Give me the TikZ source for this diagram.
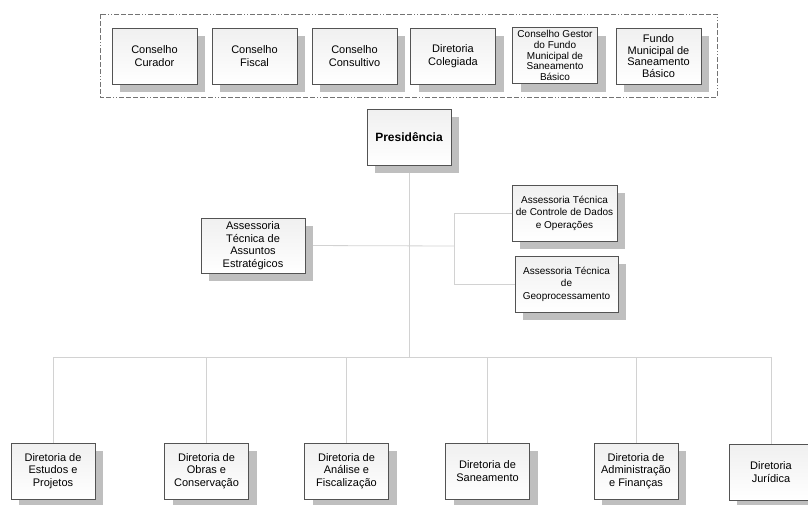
\documentclass[tikz,border=0pt]{standalone}
\usepackage{fontspec}
\setmainfont{Liberation Sans}
\usetikzlibrary{positioning,shadows,backgrounds}
\tikzstyle{unit} = [
rectangle,
minimum width=85pt,
minimum height=56pt,
inner sep=2pt,
align=center,
font=\fontsize{11}{12.5}\selectfont,
draw=gray!65!black,
top color=gray!12,
bottom color=white,
drop shadow={shadow xshift=8pt,shadow yshift=-8pt,fill=gray!50,opacity=1}
]
\tikzstyle{link} = [
draw=gray!35,
line width=0.8pt
]
\tikzstyle{frame} = [
draw=gray!90!black,
line width=0.8pt,
dash pattern=on 5pt off 2pt on 5pt off 2pt on 5pt off 2pt on 5pt off 2pt on 1pt off 2pt on 1pt off 2pt
]

\begin{document}
\begin{tikzpicture}[x=1pt,y=-1pt]
\useasboundingbox (0,0) rectangle (808,504);
%Frame
\draw[frame] (100,14) rectangle (717,97);
%Nodes
\node[unit,font=\fontsize{11}{13}\selectfont] (curador) at (154.5,56) {Conselho\\Curador};
\node[unit,font=\fontsize{11}{13}\selectfont] (fiscal) at (254.5,56) {Conselho\\Fiscal};
\node[unit,font=\fontsize{11}{13}\selectfont] (consultivo) at (354.5,56) {Conselho\\Consultivo};
\node[unit,font=\fontsize{11}{13}\selectfont] (colegiada) at (453,56) {Diretoria\\Colegiada};
\node[unit,font=\fontsize{10}{10.6}\selectfont] (gestor) at (555,55.5) {Conselho Gestor\\do Fundo\\Municipal de\\Saneamento\\Básico};
\node[unit,font=\fontsize{11}{11.8}\selectfont] (fundo) at (658.5,56) {Fundo\\Municipal de\\Saneamento\\Básico};
\node[unit,font=\fontsize{12}{14}\selectfont\bfseries,minimum width=84pt] (pres) at (409,137) {Presidência};
\node[unit,minimum width=104pt,minimum height=55pt] (estrat) at (253,245.5) {Assessoria\\Técnica de\\Assuntos\\Estratégicos};
\node[unit,font=\fontsize{10}{12.5}\selectfont,minimum width=105pt] (dados) at (564.5,213) {Assessoria Técnica\\de Controle de Dados\\e Operações};
\node[unit,font=\fontsize{10}{12.5}\selectfont,minimum width=103pt] (geo) at (566.5,284) {Assessoria Técnica\\de\\Geoprocessamento};
\node[unit,minimum width=84pt] (estudos) at (53,471) {Diretoria de\\Estudos e\\Projetos};
\node[unit,minimum width=84pt] (obras) at (206.5,471) {Diretoria de\\Obras e\\Conservação};
\node[unit,minimum width=84pt] (analise) at (346.5,471) {Diretoria de\\Análise e\\Fiscalização};
\node[unit,minimum width=84pt] (saneam) at (487.5,471) {Diretoria de\\Saneamento};
\node[unit,minimum width=84pt] (admin) at (636,471) {Diretoria de\\Administração\\e Finanças};
\node[unit,minimum width=84pt] (jurid) at (771,472) {Diretoria\\Jurídica};
\coordinate (bar) at (409,357);
\coordinate (brk) at (454,246);
%Lines
\begin{scope}[on background layer]
\draw[link] (pres.south) -- (bar);
\draw[link] (bar) -| (estudos.north);
\draw[link] (bar) -| (obras.north);
\draw[link] (bar) -| (analise.north);
\draw[link] (bar) -| (saneam.north);
\draw[link] (bar) -| (admin.north);
\draw[link] (bar) -| (jurid.north);
\draw[link] (estrat.east) -- (brk);
\draw[link] (brk) |- (dados.west);
\draw[link] (brk) |- (geo.west);
\end{scope}
\end{tikzpicture}
\end{document}
